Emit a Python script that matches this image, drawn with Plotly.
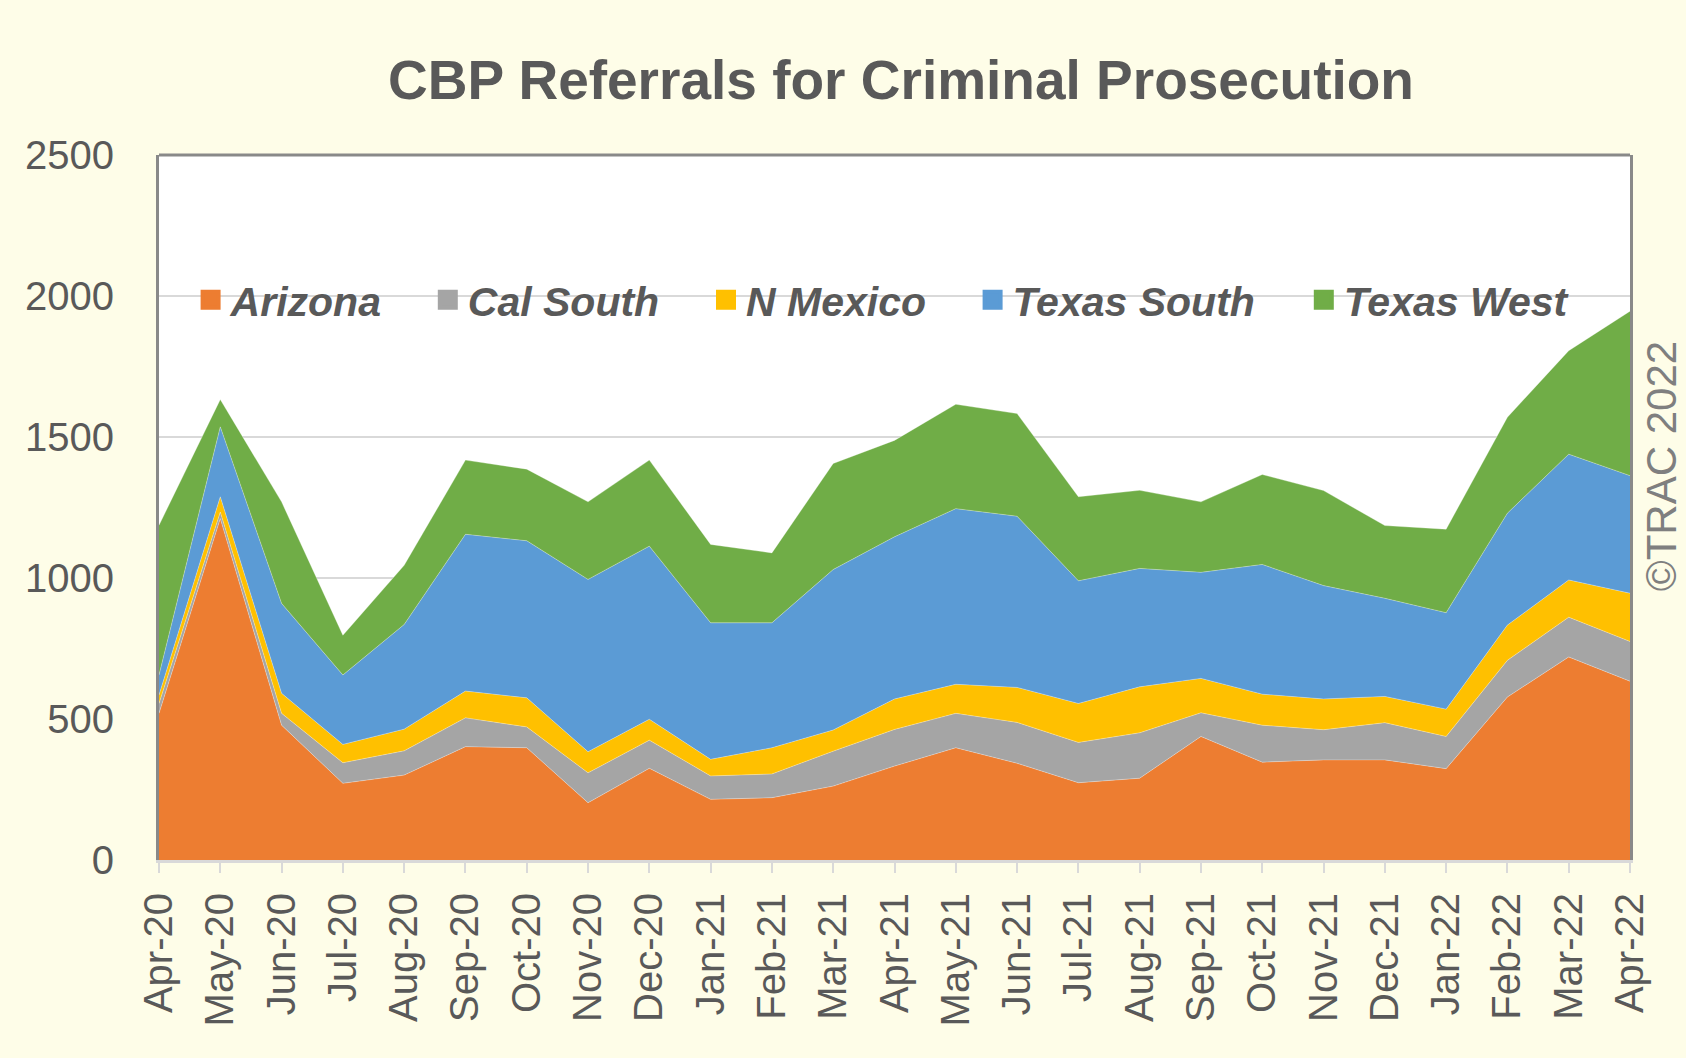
import plotly.graph_objects as go

months = ["Apr-20", "May-20", "Jun-20", "Jul-20", "Aug-20", "Sep-20", "Oct-20", "Nov-20", "Dec-20",
          "Jan-21", "Feb-21", "Mar-21", "Apr-21", "May-21", "Jun-21", "Jul-21", "Aug-21",
          "Sep-21", "Oct-21", "Nov-21", "Dec-21", "Jan-22", "Feb-22", "Mar-22", "Apr-22"]

arizona = [520, 1211, 478, 272, 301, 402, 398, 203, 325, 215, 221, 262, 333, 398, 343, 274, 290,
           438, 347, 355, 355, 324, 578, 720, 634]
cal_south = [35, 23, 42, 73, 86, 102, 74, 106, 100, 83, 84, 124, 130, 122, 145, 143, 161,
             84, 131, 107, 132, 114, 130, 141, 141]
n_mexico = [30, 54, 71, 65, 77, 95, 103, 75, 74, 59, 93, 75, 108, 103, 124, 138, 163,
            122, 110, 109, 93, 97, 125, 132, 171]
texas_south = [71, 248, 319, 246, 371, 556, 557, 611, 614, 484, 443, 569, 575, 623, 607, 435, 420,
               376, 460, 402, 348, 342, 397, 446, 417]
texas_west = [531, 97, 360, 141, 210, 263, 254, 275, 305, 278, 248, 376, 342, 370, 364, 298, 277,
              250, 319, 337, 258, 296, 340, 367, 583]

series_names = ["Arizona", "Cal South", "N Mexico", "Texas South", "Texas West"]
series_values = [arizona, cal_south, n_mexico, texas_south, texas_west]
colors = ["#ED7D31", "#A5A5A5", "#FFC000", "#5B9BD5", "#70AD47"]

FONT = "Liberation Sans, Arial, sans-serif"
TXT = "#595959"
BG = "#FEFDE8"

W, H = 1686, 1058
ML, MR, MT, MB = 159, 56, 155, 198
PW = W - ML - MR
PH = H - MT - MB

fig = go.Figure()
for name, vals, c in zip(series_names, series_values, colors):
    fig.add_trace(go.Scatter(
        x=months, y=vals, name=name, mode="lines", stackgroup="one",
        line=dict(width=0.6, color="rgba(255,255,255,0.5)"), fillcolor=c,
        showlegend=False, hoverinfo="x+y+name"))

# legend entries (square markers), each in its own legend box to reproduce spacing
legend_centers_px = [210.6, 447.8, 726.0, 992.6, 1323.8]
legend_ids = ["legend", "legend2", "legend3", "legend4", "legend5"]
legend_layout = {}
for name, c, lid, cx in zip(series_names, colors, legend_ids, legend_centers_px):
    fig.add_trace(go.Scatter(
        x=[None], y=[None], name=name, mode="markers", legend=lid,
        marker=dict(symbol="square", size=16, color=c, line=dict(width=4, color=c)),
        showlegend=True))
    legend_layout[lid] = dict(
        orientation="h", x=(cx - 20 - ML) / PW, xanchor="left",
        y=(860 - 300) / PH, yanchor="middle",
        bgcolor="rgba(0,0,0,0)", borderwidth=0,
        font=dict(family=FONT, size=41, color=TXT, weight="bold", style="italic"),
        itemwidth=30)

fig.update_layout(
    width=W, height=H,
    paper_bgcolor=BG, plot_bgcolor="#FFFFFF",
    margin=dict(l=ML, r=MR, t=MT, b=MB),
    title=dict(text="<b>CBP Referrals for Criminal Prosecution</b>",
               font=dict(family=FONT, size=55, color=TXT),
               x=0.5044, xref="paper", xanchor="center",
               y=1 - 80 / H, yref="container", yanchor="middle"),
    xaxis=dict(type="category", range=[0, 24], tickangle=-90,
               tickfont=dict(family=FONT, size=40, color=TXT),
               showgrid=False, showline=True, linecolor="#D9D9D9", linewidth=3,
               ticks="outside", ticklen=10, tickcolor="#D9D9D9", tickwidth=2,
               ticklabelstandoff=4, zeroline=False),
    yaxis=dict(range=[0, 2500], dtick=500, tick0=0,
               tickfont=dict(family=FONT, size=40, color=TXT),
               showgrid=True, gridcolor="#D9D9D9", gridwidth=2,
               showline=True, linecolor="#898989", linewidth=3, mirror=True,
               ticks="", ticklabelstandoff=34, zeroline=False),
    shapes=[dict(type="line", xref="paper", yref="paper", x0=0, x1=1, y0=1, y1=1,
                 line=dict(color="#898989", width=3))],
    annotations=[dict(text="©TRAC 2022", xref="paper", yref="paper", x=1.022, y=0.559,
                      textangle=-90, showarrow=False, xanchor="center", yanchor="middle",
                      font=dict(family=FONT, size=42, color="#7F7F7F"))],
    **legend_layout,
)

fig.write_html("out.html", config={"displayModeBar": False},
               post_script="document.body.style.margin='0px';"
                           "document.body.style.background='" + BG + "';")
